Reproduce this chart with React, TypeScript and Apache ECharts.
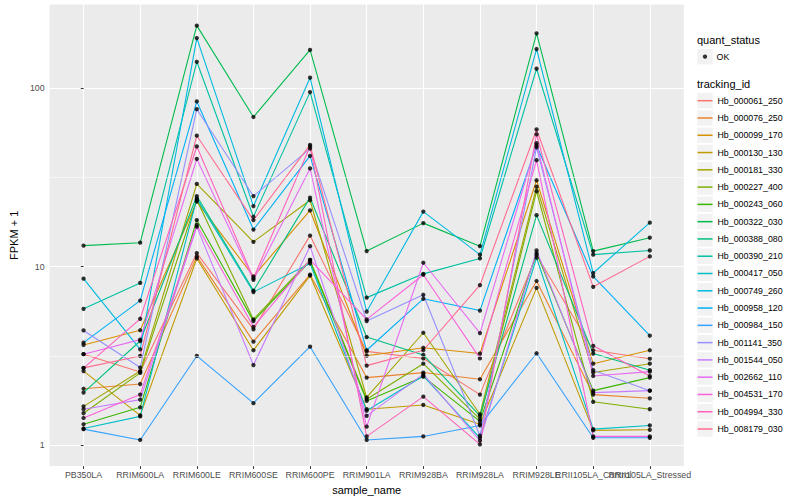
import React, { useEffect, useRef } from "react";
import * as echarts from "echarts";

const categories = [
  "PB350LA", "RRIM600LA", "RRIM600LE", "RRIM600SE", "RRIM600PE", "RRIM901LA",
  "RRIM928BA", "RRIM928LA", "RRIM928LE", "RRII105LA_Control", "RRII105LA_Stressed",
];

const trackingIds = [
  "Hb_000061_250", "Hb_000076_250", "Hb_000099_170", "Hb_000130_130", "Hb_000181_330",
  "Hb_000227_400", "Hb_000243_060", "Hb_000322_030", "Hb_000388_080", "Hb_000390_210",
  "Hb_000417_050", "Hb_000749_260", "Hb_000958_120", "Hb_000984_150", "Hb_001141_350",
  "Hb_001544_050", "Hb_002662_110", "Hb_004531_170", "Hb_004994_330", "Hb_008179_030",
];

const trackingColors = [
  "#F8766D", "#EA8331", "#D89000", "#C09B00", "#A3A500", "#7CAE00", "#39B600", "#00BB4E",
  "#00BF7D", "#00C1A3", "#00BFC4", "#00BAE0", "#00B0F6", "#35A2FF", "#9590FF", "#C77CFF",
  "#E76BF3", "#FA62DB", "#FF62BC", "#FF6C91",
];

// FPKM + 1 per sample, in category order
const hb000061 = [3.23, 2.57, 11.9, 4.45, 14.9, 3.35, 3.06, 1.92, 11.6, 3.4, 3.05];
const hb000076 = [2.07, 2.2, 11.4, 3.8, 9.0, 2.39, 2.55, 2.34, 8.3, 1.92, 1.83];
const hb000099 = [3.64, 4.4, 23.1, 8.8, 20.6, 3.17, 3.51, 3.26, 30.4, 2.86, 3.4];
const hb000130 = [2.6, 1.47, 11.1, 3.4, 8.9, 1.59, 1.68, 1.31, 7.6, 1.21, 1.22];
const hb000181 = [1.65, 2.6, 29, 13.75, 23.5, 1.85, 4.26, 1.49, 28, 2.55, 2.86];
const hb000227 = [1.51, 2.54, 23.6, 5.06, 10.9, 1.81, 2.86, 1.4, 26.4, 1.75, 1.59];
const hb000243 = [1.31, 1.63, 18.2, 4.95, 10.7, 1.77, 2.42, 1.36, 11.9, 2.02, 2.39];
const hb000322 = [13.1, 13.6, 223, 68.7, 163, 12.2, 17.5, 13.0, 202, 12.2, 14.5];
const hb000388 = [1.97, 3.83, 24.8, 7.33, 24.3, 4.03, 3.2, 1.46, 19.4, 3.26, 2.63];
const hb000390 = [5.8, 8.1, 140, 19.0, 94.7, 6.7, 9.1, 11.1, 128, 11.66, 12.3];
const hb000417 = [1.24, 1.45, 24, 7.2, 10.4, 1.56, 2.44, 1.1, 11.2, 1.23, 1.29];
const hb000749 = [8.55, 3.44, 190, 21.8, 114, 5.6, 20.3, 11.66, 165, 9.2, 17.6];
const hb000958 = [3.75, 6.45, 84, 16.1, 41.6, 3.4, 6.6, 5.67, 47.6, 8.8, 4.1];
const hb000984 = [1.23, 1.07, 3.16, 1.72, 3.56, 1.07, 1.12, 1.29, 3.27, 1.1, 1.1];
const hb001141 = [4.39, 2.72, 76, 24.8, 45.7, 4.95, 6.95, 1.13, 46.5, 2.63, 2.02];
const hb001544 = [1.59, 1.8, 16.7, 2.81, 13.0, 1.46, 2.5, 1.06, 12.3, 1.97, 2.02];
const hb002662 = [3.23, 3.9, 40, 8.43, 35.4, 1.27, 10.5, 4.24, 49, 2.44, 2.58];
const hb004531 = [1.42, 1.92, 17.1, 4.6, 10.9, 5.06, 9.0, 3.06, 39.4, 1.12, 1.12];
const hb004994 = [2.7, 5.1, 47, 8.6, 47, 1.12, 1.87, 1.01, 55, 3.6, 2.44];
const hb008179 = [2.71, 3.16, 54, 18.2, 48, 2.79, 3.4, 7.86, 58.5, 7.7, 11.4];

const seriesValues = [
  hb000061, hb000076, hb000099, hb000130, hb000181, hb000227, hb000243, hb000322,
  hb000388, hb000390, hb000417, hb000749, hb000958, hb000984, hb001141, hb001544,
  hb002662, hb004531, hb004994, hb008179,
];

const yTickValues = [1, 10, 100];
const yMinorValues = [3.1623, 31.623];
const quantStatus = "OK";

const FONT = "'Liberation Sans', Arial, Helvetica, sans-serif";

export default function App() {
  const ref = useRef<HTMLDivElement>(null);

  useEffect(() => {
    if (!ref.current) return;
    const chart = echarts.init(ref.current, null, { renderer: "svg" });

    const X_MIN = -0.6;
    const X_MAX = categories.length - 1 + 0.6;
    const catIdx = categories.map((_, i) => i);
    // a blank label at the axis end absorbs ECharts' end-label overlap check,
    // so both of the last two (overlapping) sample names stay visible
    const labelValues = [...catIdx, X_MAX];

    const lineSeries = trackingIds.map((id, k) => ({
      type: "line",
      name: id,
      data: seriesValues[k].map((v, i) => [i, v]),
      symbol: "none",
      showSymbol: false,
      color: trackingColors[k],
      itemStyle: { color: trackingColors[k] },
      lineStyle: { color: trackingColors[k], width: 1.1 },
      z: 2,
      silent: true,
    }));

    const points: number[][] = [];
    seriesValues.forEach((vals) => vals.forEach((v, i) => points.push([i, v])));

    const keySize = 17.28;
    const legendTop = 100.7 - keySize / 2;
    const keyRects = trackingIds.map((_, i) => ({
      type: "rect",
      shape: { x: 697.3, y: legendTop + i * keySize + 0.9, width: 15.4, height: 15.4 },
      style: { fill: "#F2F2F2" },
      z: 0,
    }));

    chart.setOption({
      animation: false,
      backgroundColor: "#FFFFFF",
      textStyle: { fontFamily: FONT },
      grid: {
        left: 39.5,
        right: 116.2,
        top: 4.6,
        bottom: 31.7,
        show: true,
        backgroundColor: "#EBEBEB",
        borderWidth: 0,
        containLabel: false,
      },
      xAxis: {
        type: "value",
        min: X_MIN,
        max: X_MAX,
        axisLine: { show: false },
        axisTick: {
          show: true,
          customValues: catIdx,
          length: 2.75,
          lineStyle: { color: "#333333", width: 1 },
        },
        axisLabel: {
          customValues: labelValues,
          formatter: (v: number) => {
            const i = Math.round(v);
            return Math.abs(v - i) < 1e-6 && categories[i] ? categories[i] : " ";
          },
          color: "#4D4D4D",
          fontSize: 8.8,
          fontFamily: FONT,
          margin: 4,
          hideOverlap: false,
        },
        splitLine: { show: true, lineStyle: { color: "#FFFFFF", width: 1.1 } },
        name: "sample_name",
        nameLocation: "middle",
        nameGap: 13.5,
        nameTextStyle: { color: "#000000", fontSize: 11, fontFamily: FONT },
      },
      yAxis: {
        type: "log",
        logBase: 10,
        min: 0.764,
        max: 292.5,
        axisLine: { show: false },
        axisTick: { show: true, length: 2.75, lineStyle: { color: "#333333", width: 1 } },
        axisLabel: {
          color: "#4D4D4D",
          fontSize: 8.8,
          fontFamily: FONT,
          margin: 5,
          showMinLabel: false,
          showMaxLabel: false,
          formatter: (v: number) => (yTickValues.includes(Math.round(v)) ? String(Math.round(v)) : ""),
        },
        splitLine: {
          show: true,
          showMinLine: false,
          showMaxLine: false,
          lineStyle: { color: "#FFFFFF", width: 1.1 },
        },
        name: "FPKM + 1",
        nameLocation: "middle",
        nameGap: 24,
        nameRotate: 90,
        nameTextStyle: { color: "#000000", fontSize: 11, fontFamily: FONT },
      },
      legend: [
        {
          data: [quantStatus],
          orient: "vertical",
          left: 705 - 2.15,
          top: 56.7 - 7.5,
          padding: 0,
          itemWidth: 4.3,
          itemHeight: 4.3,
          icon: "circle",
          selectedMode: false,
          textStyle: {
            fontSize: 8.8,
            color: "#000000",
            fontFamily: FONT,
            lineHeight: 15,
            padding: [0, 0, 0, 4.4],
          },
        },
        {
          data: trackingIds,
          orient: "vertical",
          left: 697.5,
          top: legendTop,
          padding: 0,
          itemWidth: 15,
          itemHeight: keySize,
          itemGap: 0,
          icon: "path://M0,0H10V1H0Z",
          selectedMode: false,
          textStyle: { fontSize: 8.8, color: "#000000", fontFamily: FONT, lineHeight: keySize },
        },
      ],
      graphic: [
        {
          type: "text",
          left: 697,
          top: 34.5,
          style: { text: "quant_status", fontSize: 11, fill: "#000000", fontFamily: FONT },
        },
        {
          type: "rect",
          shape: { x: 697.3, y: 56.7 - 7.7, width: 15.4, height: 15.4 },
          style: { fill: "#F2F2F2" },
          z: 0,
        },
        {
          type: "text",
          left: 697,
          top: 78,
          style: { text: "tracking_id", fontSize: 11, fill: "#000000", fontFamily: FONT },
        },
        ...keyRects,
      ],
      series: [
        {
          type: "line",
          name: "minor-grid",
          data: [],
          z: 1,
          silent: true,
          markLine: {
            silent: true,
            symbol: "none",
            label: { show: false },
            lineStyle: { color: "#FFFFFF", width: 0.55, type: "solid" },
            data: yMinorValues.map((v) => ({ yAxis: v })),
          },
        },
        ...lineSeries,
        {
          type: "scatter",
          name: quantStatus,
          data: points,
          symbol: "circle",
          symbolSize: 4.3,
          itemStyle: { color: "#000000" },
          z: 3,
          silent: true,
        },
      ],
    });

    return () => chart.dispose();
  }, []);

  return (
    <div
      ref={ref}
      style={{ position: "fixed", left: 0, top: 0, width: 800, height: 500 }}
    />
  );
}
